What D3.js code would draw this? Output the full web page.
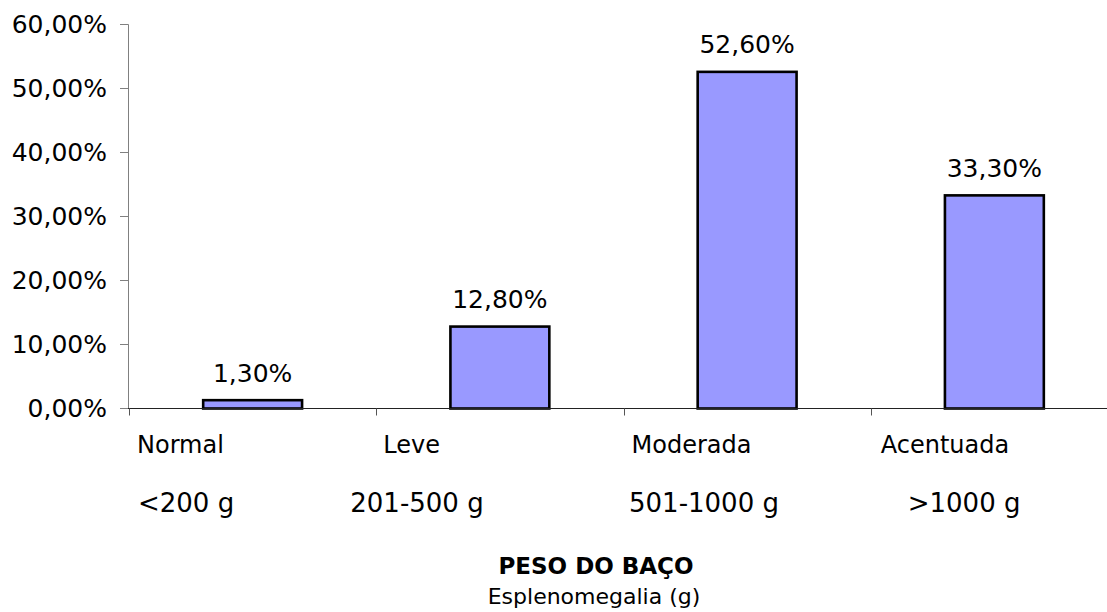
<!DOCTYPE html>
<html>
<head>
<meta charset="utf-8">
<script src="https://cdn.jsdelivr.net/npm/d3@7"></script>
<style>
  html, body { margin: 0; padding: 0; background: #fff; }
  svg { display: block; }
  text { font-family: "DejaVu Sans", Verdana, sans-serif; fill: #000; }
</style>
</head>
<body>
<svg id="chart" width="1107" height="612"></svg>
<script>
// Spleen weight classes and the share of cases in each
const categories = ["Normal", "Leve", "Moderada", "Acentuada"];
const weightRanges = ["<200 g", "201-500 g", "501-1000 g", ">1000 g"];
const shares = [0.013, 0.128, 0.526, 0.333];
const valueLabels = ["1,30%", "12,80%", "52,60%", "33,30%"];
const yTicks = [0, 0.1, 0.2, 0.3, 0.4, 0.5, 0.6];
const yTickLabels = ["0,00%", "10,00%", "20,00%", "30,00%", "40,00%", "50,00%", "60,00%"];

// Horizontal nudges of the two category label lines, relative to each band start
const line1Shift = [8, 7, 8, 10];
const line2Shift = [9, -26, 5.5, 37];

const svg = d3.select("#chart");
const W = 1107, H = 612;

const x = d3.scaleBand()
  .domain(categories)
  .range([129, 1118])
  .paddingInner(0.6)
  .paddingOuter(0.3);

// band positions without padding, for tick marks and label anchors
const xSlot = d3.scaleBand().domain(categories).range([129, 1118]);

const y = d3.scaleLinear().domain([0, 0.6]).range([408.5, 24.5]);

// Y axis
const yAxis = svg.append("g");
yAxis.append("line")
  .attr("x1", 128.5).attr("x2", 128.5)
  .attr("y1", y(0.6)).attr("y2", y(0))
  .attr("stroke", "#808080").attr("stroke-width", 1);
yAxis.selectAll("line.tick").data(yTicks).join("line")
  .attr("class", "tick")
  .attr("x1", 120).attr("x2", 128.5)
  .attr("y1", d => y(d)).attr("y2", d => y(d))
  .attr("stroke", "#808080").attr("stroke-width", 1);
yAxis.selectAll("text").data(yTicks).join("text")
  .attr("x", 107)
  .attr("y", d => y(d) + 8.5)
  .attr("text-anchor", "end")
  .attr("font-size", 25)
  .text((d, i) => yTickLabels[i]);

// Bars
svg.append("g").selectAll("rect").data(categories).join("rect")
  .attr("x", d => x(d))
  .attr("width", x.bandwidth())
  .attr("y", (d, i) => y(shares[i]))
  .attr("height", (d, i) => y(0) - y(shares[i]))
  .attr("fill", "#9999ff")
  .attr("stroke", "#000")
  .attr("stroke-width", 2.6);

// X axis
const xAxis = svg.append("g");
xAxis.append("line")
  .attr("x1", 128).attr("x2", W)
  .attr("y1", 408.5).attr("y2", 408.5)
  .attr("stroke", "#222").attr("stroke-width", 1);
xAxis.selectAll("line.tick").data(categories).join("line")
  .attr("class", "tick")
  .attr("x1", d => Math.round(xSlot(d)) + 0.5).attr("x2", d => Math.round(xSlot(d)) + 0.5)
  .attr("y1", 408.5).attr("y2", 415.5)
  .attr("stroke", "#555").attr("stroke-width", 1);

// Value labels
svg.append("g").selectAll("text").data(categories).join("text")
  .attr("x", d => x(d) + x.bandwidth() / 2)
  .attr("y", (d, i) => y(shares[i]) - 18.5)
  .attr("text-anchor", "middle")
  .attr("font-size", 25)
  .text((d, i) => valueLabels[i]);

// Category labels (class name and weight range)
const catLabels = svg.append("g");
catLabels.selectAll("text.name").data(categories).join("text")
  .attr("class", "name")
  .attr("x", (d, i) => xSlot(d) + line1Shift[i])
  .attr("y", 453)
  .attr("font-size", 24)
  .text(d => d);
catLabels.selectAll("text.range").data(categories).join("text")
  .attr("class", "range")
  .attr("x", (d, i) => xSlot(d) + line2Shift[i])
  .attr("y", 512)
  .attr("font-size", 26)
  .text((d, i) => weightRanges[i]);

// Axis title
svg.append("text")
  .attr("x", 596).attr("y", 574)
  .attr("text-anchor", "middle")
  .attr("font-size", 23)
  .attr("font-weight", "bold")
  .text("PESO DO BAÇO");
svg.append("text")
  .attr("x", 594).attr("y", 604)
  .attr("text-anchor", "middle")
  .attr("font-size", 22)
  .text("Esplenomegalia (g)");
</script>
</body>
</html>
